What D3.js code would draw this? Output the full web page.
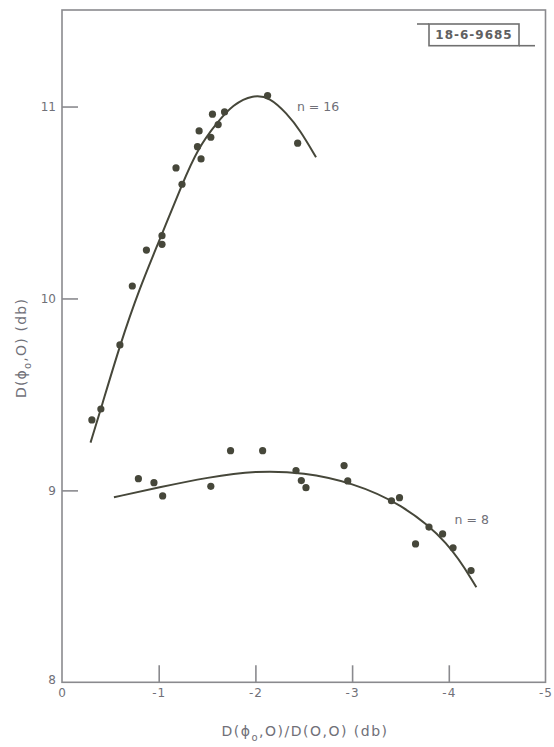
<!DOCTYPE html>
<html>
<head>
<meta charset="utf-8">
<title>D(phi0,0) vs D(phi0,0)/D(0,0)</title>
<script src="https://cdn.jsdelivr.net/npm/d3@7"></script>
<style>
  body { margin: 0; background: #fff; }
  svg text { font-family: "DejaVu Sans", sans-serif; fill: #707078; }
</style>
</head>
<body>
<script>
// measured points, n = 16
var n16X = [-0.309, -0.402, -0.599, -0.727, -0.873, -1.034, -1.034, -1.179, -1.241,
            -1.418, -1.401, -1.438, -1.539, -1.556, -1.615, -1.681, -2.126, -2.437];
var n16Y = [9.367, 9.424, 9.758, 10.065, 10.252, 10.327, 10.282, 10.680, 10.595,
            10.873, 10.791, 10.727, 10.840, 10.960, 10.906, 10.972, 11.057, 10.809];

// measured points, n = 8
var n8X = [-0.790, -0.951, -1.041, -1.539, -1.743, -2.075, -2.420, -2.475, -2.523,
           -2.917, -2.955, -3.407, -3.490, -3.656, -3.795, -3.936, -4.044, -4.230];
var n8Y = [9.061, 9.040, 8.971, 9.021, 9.207, 9.207, 9.103, 9.051, 9.014,
           9.129, 9.049, 8.946, 8.962, 8.721, 8.809, 8.773, 8.701, 8.582];

// fitted curves
var fit16X = [-0.295, -0.402, -0.599, -0.803, -1.010, -1.241, -1.407, -1.598, -1.770,
              -1.977, -2.150, -2.323, -2.461, -2.627];
var fit16Y = [9.249, 9.424, 9.758, 10.055, 10.305, 10.595, 10.783, 10.913, 11.012,
              11.062, 11.048, 10.965, 10.878, 10.736];
var fit8X = [-0.537, -1.004, -1.508, -2.003, -2.503, -3.0, -3.502, -4.001, -4.285];
var fit8Y = [8.964, 9.016, 9.068, 9.103, 9.094, 9.040, 8.933, 8.733, 8.495];

var xTicks = [0, -1, -2, -3, -4, -5];
var yTicks = [8, 9, 10, 11];

var svgWidth = 554;
var svgHeight = 747;
var plotLeft = 62, plotRight = 545.5, plotTop = 10, plotBottom = 682.3;

var ink = "#46473a";
var frameColor = "#8a8a8e";

var xScale = d3.scaleLinear()
  .domain([0, -5])
  .range([plotLeft, plotRight]);

var yScale = d3.scaleLinear()
  .domain([8, 11.503])
  .range([plotBottom, plotTop]);

var svg = d3.select("body")
  .append("svg")
  .attr("width", svgWidth)
  .attr("height", svgHeight);

// frame
svg.append("rect")
  .attr("x", plotLeft)
  .attr("y", plotTop)
  .attr("width", plotRight - plotLeft)
  .attr("height", plotBottom - plotTop)
  .style("fill", "none")
  .style("stroke", frameColor)
  .style("stroke-width", 1.6);

// x axis: ticks point up into the plot
var xAxis = svg.append("g")
  .attr("transform", "translate(0," + plotBottom + ")")
  .call(d3.axisBottom(xScale)
    .tickValues(xTicks)
    .tickSize(-17)
    .tickPadding(6)
    .tickFormat(function(d) { return d === 0 ? "0" : "-" + Math.abs(d); }));
xAxis.select(".domain").remove();
xAxis.selectAll(".tick line")
  .style("stroke", frameColor)
  .style("stroke-width", 1.6)
  .style("display", function(d) { return (d === 0 || d === -5) ? "none" : null; });
xAxis.selectAll(".tick text")
  .attr("font-size", 12)
  .attr("fill", "#707078")
  .style("letter-spacing", "1px");

// y axis: ticks point right into the plot
var yAxis = svg.append("g")
  .attr("transform", "translate(" + plotLeft + ",0)")
  .call(d3.axisLeft(yScale)
    .tickValues(yTicks)
    .tickSize(-16)
    .tickPadding(6)
    .tickFormat(d3.format("d")));
yAxis.select(".domain").remove();
yAxis.selectAll(".tick line")
  .style("stroke", frameColor)
  .style("stroke-width", 1.6)
  .style("display", function(d) { return d === 8 ? "none" : null; });
yAxis.selectAll(".tick text")
  .attr("font-size", 12)
  .attr("fill", "#707078")
  .attr("dy", function(d) { return d === 8 ? "0.1em" : "0.32em"; });

// fitted curves
var line = d3.line()
  .x(function(d) { return xScale(d[0]); })
  .y(function(d) { return yScale(d[1]); })
  .curve(d3.curveBasis);

svg.append("path")
  .datum(d3.zip(fit16X, fit16Y))
  .attr("d", line)
  .style("fill", "none")
  .style("stroke", ink)
  .style("stroke-width", 2);

svg.append("path")
  .datum(d3.zip(fit8X, fit8Y))
  .attr("d", line)
  .style("fill", "none")
  .style("stroke", ink)
  .style("stroke-width", 2);

// dots
svg.selectAll(".dot16")
  .data(d3.zip(n16X, n16Y))
  .enter()
  .append("circle")
  .attr("class", "dot16")
  .attr("cx", function(d) { return xScale(d[0]); })
  .attr("cy", function(d) { return yScale(d[1]); })
  .attr("r", 3.6)
  .style("fill", ink);

svg.selectAll(".dot8")
  .data(d3.zip(n8X, n8Y))
  .enter()
  .append("circle")
  .attr("class", "dot8")
  .attr("cx", function(d) { return xScale(d[0]); })
  .attr("cy", function(d) { return yScale(d[1]); })
  .attr("r", 3.6)
  .style("fill", ink);

// curve labels
svg.append("text")
  .attr("x", xScale(-2.43))
  .attr("y", yScale(11.0))
  .attr("font-size", 12.5)
  .attr("dy", "0.35em")
  .text("n = 16");

svg.append("text")
  .attr("x", xScale(-4.06))
  .attr("y", yScale(8.85))
  .attr("font-size", 12.5)
  .attr("dy", "0.35em")
  .text("n = 8");

// x axis title
var xt = svg.append("text")
  .attr("x", 305)
  .attr("y", 736)
  .attr("text-anchor", "middle")
  .attr("font-size", 14)
  .style("letter-spacing", "1.5px");
xt.append("tspan").text("D(ϕ");
xt.append("tspan").attr("dy", 5).attr("font-size", 10).text("o");
xt.append("tspan").attr("dy", -5).text(",O)/D(O,O) (db)");

// y axis title
var yt = svg.append("text")
  .attr("transform", "translate(26,348) rotate(-90)")
  .attr("text-anchor", "middle")
  .attr("font-size", 14)
  .style("letter-spacing", "1.2px");
yt.append("tspan").text("D(ϕ");
yt.append("tspan").attr("dy", 5).attr("font-size", 10).text("o");
yt.append("tspan").attr("dy", -5).text(",O) (db)");

// drawing number box
svg.append("rect")
  .attr("x", 429)
  .attr("y", 24)
  .attr("width", 90)
  .attr("height", 21.7)
  .style("fill", "none")
  .style("stroke", "#707070")
  .style("stroke-width", 1.6);
svg.append("line")
  .attr("x1", 417).attr("x2", 429)
  .attr("y1", 24).attr("y2", 24)
  .style("stroke", "#707070")
  .style("stroke-width", 1.6);
svg.append("line")
  .attr("x1", 519).attr("x2", 535)
  .attr("y1", 45.7).attr("y2", 45.7)
  .style("stroke", "#707070")
  .style("stroke-width", 1.6);
svg.append("text")
  .attr("x", 474)
  .attr("y", 35)
  .attr("dy", "0.35em")
  .attr("text-anchor", "middle")
  .attr("font-size", 12)
  .attr("font-weight", "bold")
  .style("fill", "#606060")
  .style("letter-spacing", "1px")
  .text("18-6-9685");
</script>
</body>
</html>
